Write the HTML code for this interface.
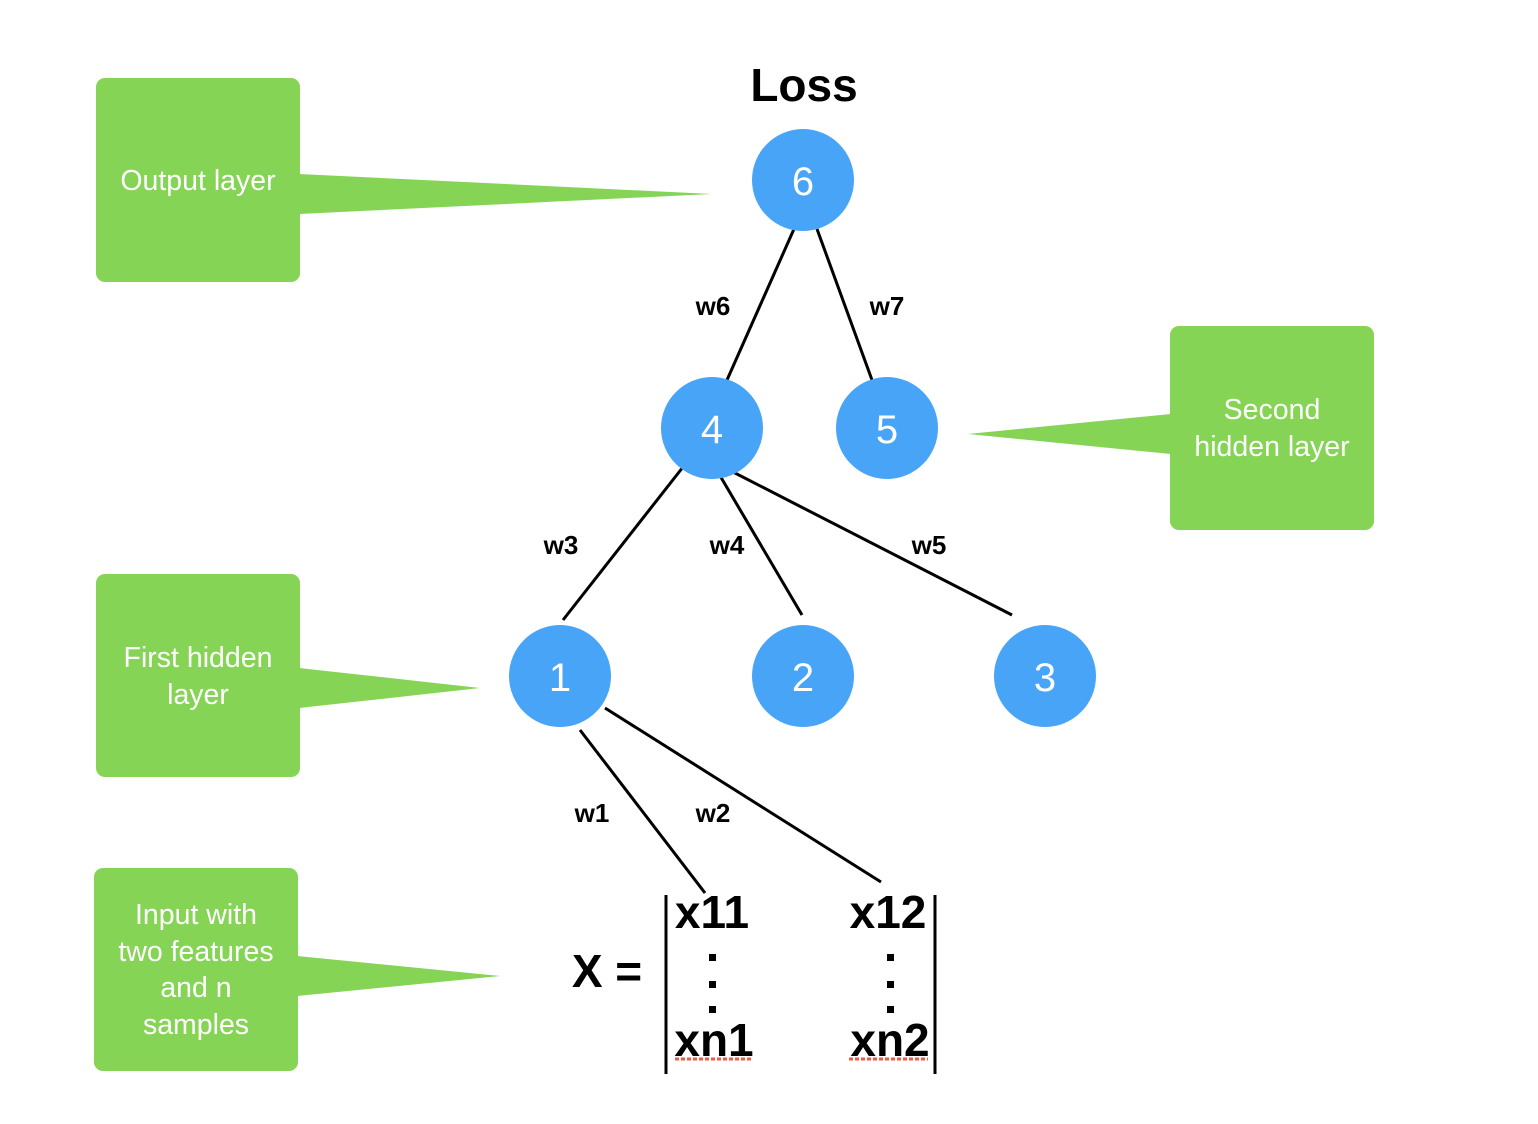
<!DOCTYPE html>
<html><head><meta charset="utf-8"><style>
html,body{margin:0;padding:0;background:#fff;}
svg{display:block;}
</style></head><body>
<svg width="1538" height="1124" viewBox="0 0 1538 1124" xmlns="http://www.w3.org/2000/svg" font-family="Liberation Sans, Arial, sans-serif">
<g fill="#85d455">
<rect x="96" y="78" width="204" height="204" rx="9"/>
<polygon points="299,174 712,194 299,214"/>
<rect x="1170" y="326" width="204" height="204" rx="9"/>
<polygon points="1171,414 968,434 1171,454"/>
<rect x="96" y="574" width="204" height="203" rx="9"/>
<polygon points="299,668 480,688 299,708"/>
<rect x="94" y="868" width="204" height="203" rx="9"/>
<polygon points="297,956 500,976 297,996"/>
</g>
<g fill="#fff" font-size="28.5" text-anchor="middle">
<text x="198" y="190">Output layer</text>
<text x="1272" y="419">Second</text>
<text x="1272" y="456">hidden layer</text>
<text x="198" y="667">First hidden</text>
<text x="198" y="704">layer</text>
<text x="196" y="924">Input with</text>
<text x="196" y="961">two features</text>
<text x="196" y="997">and n</text>
<text x="196" y="1034">samples</text>
</g>
<g stroke="#000" stroke-width="3">
<line x1="794" y1="229" x2="727" y2="380"/>
<line x1="817" y1="229" x2="872" y2="380"/>
<line x1="683" y1="467" x2="563" y2="620"/>
<line x1="719" y1="474" x2="802" y2="615"/>
<line x1="733" y1="472" x2="1012" y2="615"/>
<line x1="580" y1="730" x2="705" y2="893"/>
<line x1="605" y1="708" x2="881" y2="882"/>
<line x1="666" y1="895" x2="666" y2="1074"/>
<line x1="935" y1="895" x2="935" y2="1074"/>
</g>
<g fill="#48a4f7">
<circle cx="803" cy="180" r="51"/>
<circle cx="712" cy="428" r="51"/>
<circle cx="887" cy="428" r="51"/>
<circle cx="560" cy="676" r="51"/>
<circle cx="803" cy="676" r="51"/>
<circle cx="1045" cy="676" r="51"/>
</g>
<g fill="#fff" font-size="40" text-anchor="middle">
<text x="803" y="195">6</text>
<text x="712" y="443">4</text>
<text x="887" y="443">5</text>
<text x="560" y="691">1</text>
<text x="803" y="691">2</text>
<text x="1045" y="691">3</text>
</g>
<g font-weight="bold" font-size="26" text-anchor="middle">
<text x="713" y="315">w6</text>
<text x="887" y="315">w7</text>
<text x="561" y="554">w3</text>
<text x="727" y="554">w4</text>
<text x="929" y="554">w5</text>
<text x="592" y="822">w1</text>
<text x="713" y="822">w2</text>
</g>
<g font-weight="bold" font-size="46" text-anchor="middle">
<text x="804" y="101">Loss</text>
<text x="607" y="987">X =</text>
<text x="712" y="928">x11</text>
<text x="888" y="928">x12</text>
<text x="714" y="1056">xn1</text>
<text x="890" y="1056">xn2</text>
</g>
<g fill="#000">
<rect x="709" y="954" width="7" height="7"/>
<rect x="709" y="981" width="7" height="7"/>
<rect x="709" y="1006" width="7" height="7"/>
<rect x="887" y="954" width="7" height="7"/>
<rect x="887" y="981" width="7" height="7"/>
<rect x="887" y="1006" width="7" height="7"/>
</g>
<g stroke="#f05a4a" stroke-width="3" stroke-dasharray="4,2">
<line x1="675" y1="1059" x2="753" y2="1059"/>
<line x1="849" y1="1059" x2="928" y2="1059"/>
</g>
</svg>
</body></html>
